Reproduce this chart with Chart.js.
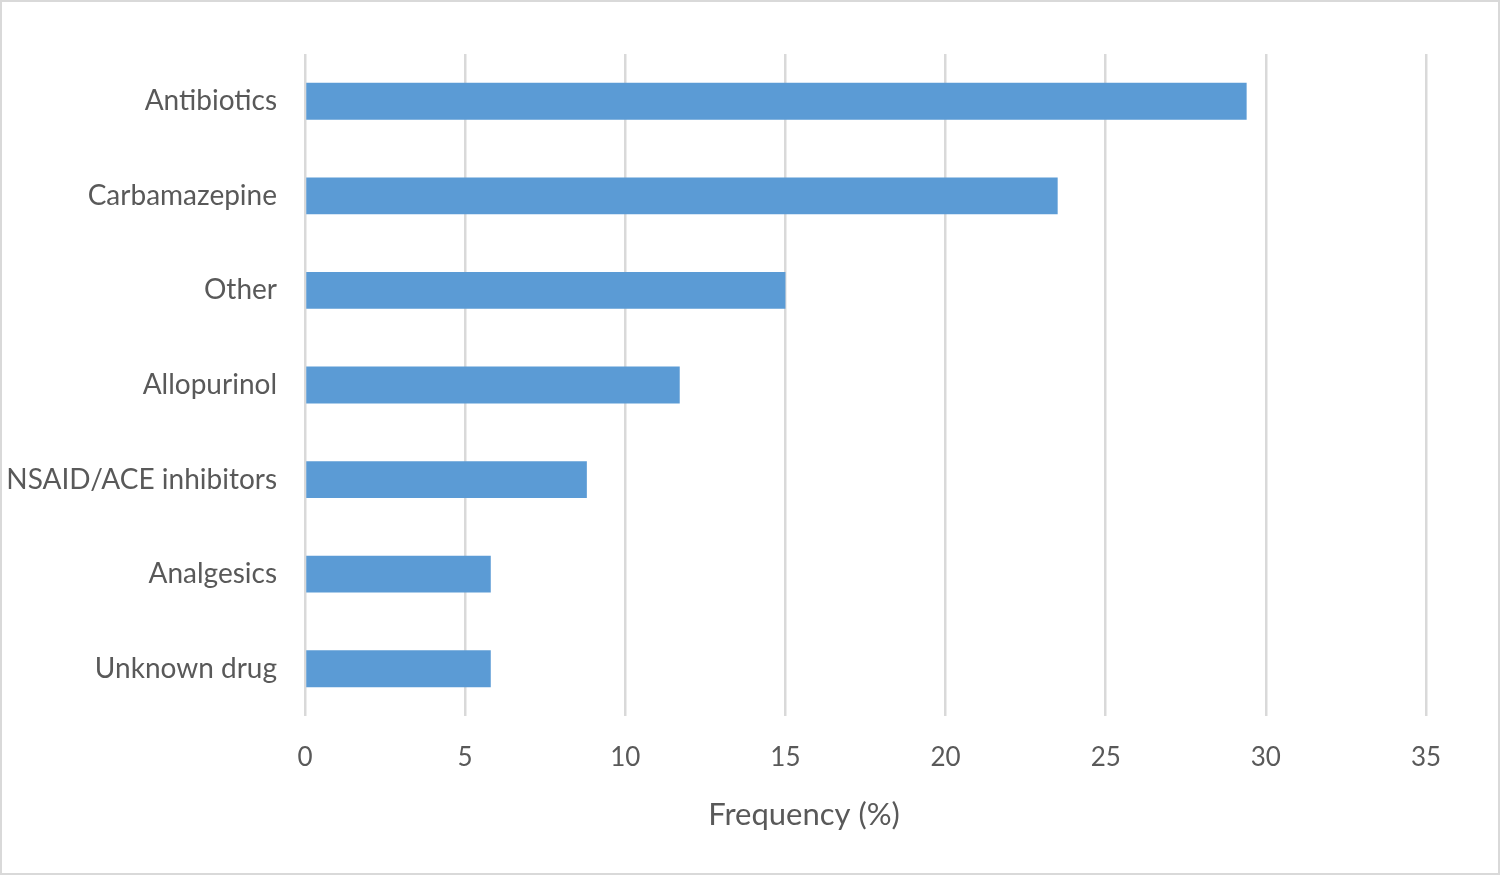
<!DOCTYPE html>
<html>
<head>
<meta charset="utf-8">
<script src="https://cdn.jsdelivr.net/npm/chart.js@4"></script>
<style>
  html, body { margin: 0; padding: 0; background: #fff; }
  #wrap { width: 1500px; height: 875px; box-sizing: border-box; border: 2px solid #d9d9d9; }
</style>
</head>
<body>
<div id="wrap"><canvas id="barChart" width="1496" height="871"></canvas></div>
<script>
// drug groups, top to bottom
const drugs = ['Antibiotics', 'Carbamazepine', 'Other', 'Allopurinol', 'NSAID/ACE inhibitors', 'Analgesics', 'Unknown drug'];
const frequency = [29.4, 23.5, 15.0, 11.7, 8.8, 5.8, 5.8];
const xTicks = [0, 5, 10, 15, 20, 25, 30, 35];
const xTitle = 'Frequency (%)';

const textColor = '#595959';
const fontFamily = 'Lato, "Open Sans", sans-serif';

// axis title sits a bit left of the plot centre, as in the original
const xTitlePlugin = {
  id: 'xTitle',
  afterDraw(chart) {
    const c = chart.ctx;
    c.save();
    c.font = '31px ' + fontFamily;
    c.fillStyle = textColor;
    c.textAlign = 'center';
    c.textBaseline = 'middle';
    c.fillText(xTitle, chart.width / 2 + 54, 813);
    c.restore();
  }
};

const ctx = document.getElementById('barChart');
new Chart(ctx, {
  type: 'bar',
  data: {
    labels: drugs,
    datasets: [{
      label: xTitle,
      data: frequency,
      backgroundColor: '#5b9bd5',
      categoryPercentage: 1,
      barPercentage: 0.39
    }]
  },
  options: {
    indexAxis: 'y',
    responsive: false,
    animation: false,
    layout: { padding: { top: 52, right: 72, bottom: 0, left: 0 } },
    plugins: {
      legend: { display: false },
      tooltip: { enabled: false }
    },
    scales: {
      x: {
        min: 0,
        max: 35,
        afterBuildTicks: (scale) => { scale.ticks = xTicks.map(v => ({ value: v })); },
        afterFit: (scale) => { scale.height = 157; },
        grid: { color: '#d9d9d9', lineWidth: 2.5, drawTicks: false },
        border: { display: false },
        ticks: { color: textColor, font: { family: fontFamily, size: 26 }, padding: 26 }
      },
      y: {
        afterFit: (scale) => { scale.width = 303; },
        grid: { display: false },
        border: { display: false },
        ticks: { color: textColor, font: { family: fontFamily, size: 28 }, padding: 20 }
      }
    }
  },
  plugins: [xTitlePlugin]
});
</script>
</body>
</html>
